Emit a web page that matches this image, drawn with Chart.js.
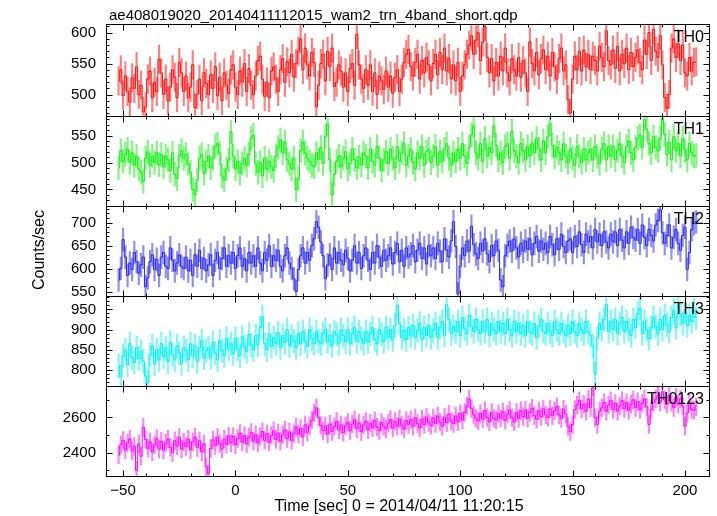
<!DOCTYPE html>
<html>
<head>
<meta charset="utf-8">
<title>ae408019020 wam2 trn 4band short</title>
<script src="https://cdn.jsdelivr.net/npm/chart.js@4.4.1/dist/chart.umd.min.js"></script>
<style>
  html, body { margin: 0; padding: 0; background: #fff; }
  #wrap { width: 717px; height: 516px; }
</style>
</head>
<body>
<div id="wrap"><canvas id="lcchart" width="717" height="516"></canvas></div>
<script>
// light curve in 1 s bins, first bin centred on t = -52 s
var binStart = -52;
var binSize = 1;

var plotTitle = 'ae408019020_20140411112015_wam2_trn_4band_short.qdp';
var timeLabel = 'Time [sec] 0 = 2014/04/11 11:20:15';
var rateLabel = 'Counts/sec';
var bandNames = ['TH0', 'TH1', 'TH2', 'TH3', 'TH0123'];

var th0Rate = [
  522, 540, 498, 530, 505, 488, 527, 510, 545, 500,
  515, 472, 480, 525, 538, 495, 520, 505, 557, 535,
  500, 525, 490, 512, 540, 528, 495, 552, 535, 505,
  530, 495, 512, 548, 479, 500, 525, 490, 535, 518,
  500, 532, 510, 545, 498, 528, 490, 535, 515, 502,
  540, 548, 512, 500, 538, 520, 550, 505, 542, 515,
  500, 530, 555, 562, 525, 497, 520, 495, 538, 545,
  525, 505, 540, 558, 520, 553, 535, 565, 528, 550,
  570, 590, 540, 575, 548, 530, 568, 552, 480, 515,
  550, 565, 522, 570, 545, 575, 513, 520, 548, 538,
  512, 535, 505, 542, 550, 515, 597, 548, 525, 510,
  540, 515, 548, 505, 535, 500, 530, 522, 508, 538,
  512, 530, 502, 528, 540, 505, 525, 552, 565, 573,
  545, 530, 552, 565, 525, 555, 535, 560, 548, 522,
  550, 565, 532, 568, 540, 575, 538, 558, 525, 548,
  522, 552, 505, 530, 548, 565, 580, 595, 565, 588,
  600, 555, 585, 610, 560, 535, 558, 522, 552, 530,
  562, 538, 575, 535, 522, 558, 540, 530, 560, 528,
  555, 535, 505, 585, 550, 538, 568, 532, 558, 572,
  540, 562, 530, 568, 545, 525, 558, 575, 538, 548,
  492, 470, 525, 562, 540, 570, 538, 572, 545, 565,
  540, 562, 555, 538, 578, 560, 545, 603, 555, 548,
  572, 542, 578, 538, 565, 550, 575, 540, 568, 545,
  560, 572, 552, 540, 588, 565, 600, 555, 605, 570,
  560, 595, 548, 495, 478, 500, 575, 590, 560, 582,
  555, 580, 535, 530, 560, 538, 552, 553
];

var th1Rate = [
  490, 522, 502, 515, 525, 500, 518, 495, 512, 488,
  482, 465, 508, 520, 495, 512, 500, 518, 496, 515,
  492, 512, 505, 485, 518, 478, 470, 512, 522, 508,
  515, 498, 482, 450, 440, 468, 508, 515, 480, 502,
  512, 490, 508, 530, 535, 518, 475, 468, 488, 505,
  557, 512, 488, 502, 480, 498, 508, 495, 515, 545,
  551, 498, 482, 500, 475, 508, 488, 502, 492, 485,
  512, 528, 542, 518, 538, 505, 498, 488, 508, 450,
  470, 522, 538, 518, 508, 502, 495, 492, 518, 505,
  528, 498, 548, 572, 505, 440, 478, 502, 512, 492,
  508, 520, 488, 498, 525, 505, 490, 510, 495, 518,
  512, 490, 525, 502, 495, 530, 508, 485, 505, 520,
  498, 525, 508, 490, 530, 502, 518, 535, 495, 512,
  525, 500, 488, 518, 508, 530, 495, 520, 525, 500,
  512, 530, 495, 520, 502, 525, 535, 508, 495, 518,
  502, 525, 508, 535, 512, 498, 528, 552, 568, 518,
  508, 535, 502, 545, 512, 528, 518, 568, 532, 505,
  518, 500, 530, 535, 508, 558, 522, 512, 500, 535,
  522, 505, 530, 512, 535, 518, 545, 525, 505, 540,
  518, 548, 572, 532, 510, 528, 518, 505, 535, 512,
  500, 525, 508, 495, 530, 512, 500, 525, 505, 518,
  525, 505, 530, 512, 498, 525, 535, 505, 530, 512,
  530, 505, 522, 535, 512, 500, 530, 540, 518, 505,
  528, 545, 550, 528, 580, 562, 535, 518, 548, 528,
  522, 545, 582, 552, 515, 538, 505, 548, 522, 535,
  512, 545, 522, 505, 535, 518, 512, 513
];

var th2Rate = [
  575, 600, 663, 625, 585, 612, 598, 635, 615, 590,
  608, 625, 560, 580, 615, 630, 598, 620, 585, 625,
  635, 605, 600, 645, 618, 595, 612, 630, 605, 600,
  625, 595, 618, 585, 630, 605, 640, 600, 622, 595,
  608, 630, 585, 618, 635, 600, 622, 645, 605, 628,
  612, 635, 600, 628, 645, 605, 622, 595, 635, 612,
  628, 605, 645, 612, 595, 635, 618, 650, 605, 628,
  618, 640, 605, 595, 628, 645, 612, 600, 578, 550,
  598, 628, 645, 612, 635, 618, 650, 665, 702, 690,
  658, 628, 578, 608, 630, 598, 645, 612, 635, 618,
  608, 640, 622, 595, 618, 650, 612, 635, 600, 628,
  645, 618, 598, 635, 612, 650, 625, 605, 640, 618,
  628, 645, 610, 635, 655, 615, 640, 605, 645, 625,
  632, 650, 615, 640, 655, 622, 645, 610, 650, 628,
  645, 622, 655, 638, 615, 665, 640, 625, 660, 702,
  648, 545, 605, 645, 628, 660, 638, 692, 652, 632,
  622, 655, 638, 665, 632, 615, 650, 628, 660, 640,
  575, 560, 628, 650, 660, 638, 665, 645, 625, 655,
  638, 660, 642, 665, 630, 655, 670, 638, 660, 642,
  655, 635, 670, 652, 630, 665, 642, 675, 648, 635,
  660, 665, 635, 670, 648, 680, 652, 635, 675, 658,
  670, 645, 685, 658, 675, 650, 680, 658, 645, 675,
  658, 680, 650, 685, 662, 645, 680, 655, 690, 668,
  662, 685, 655, 695, 668, 650, 685, 672, 660, 695,
  705, 728, 678, 655, 672, 695, 645, 668, 685, 655,
  640, 672, 690, 598, 635, 685, 698, 702
];

var th3Rate = [
  810, 782, 835, 850, 812, 865, 830, 818, 855, 828,
  845, 822, 785, 770, 838, 860, 815, 850, 825, 865,
  832, 855, 820, 868, 838, 825, 860, 842, 815, 855,
  848, 825, 865, 835, 860, 820, 855, 872, 830, 848,
  855, 830, 868, 842, 825, 872, 848, 835, 878, 852,
  865, 840, 878, 852, 835, 882, 858, 845, 888, 862,
  850, 885, 862, 905, 932, 865, 850, 890, 858, 880,
  865, 892, 855, 885, 868, 900, 860, 885, 872, 855,
  890, 865, 895, 872, 858, 900, 878, 865, 895, 872,
  865, 890, 900, 870, 885, 860, 895, 888, 865, 900,
  885, 870, 900, 865, 890, 905, 870, 895, 878, 865,
  895, 870, 890, 905, 875, 865, 900, 888, 870, 905,
  880, 900, 875, 910, 960, 915, 880, 898, 875, 905,
  885, 910, 880, 898, 915, 875, 905, 885, 910, 880,
  898, 915, 880, 905, 920, 885, 962, 925, 890, 908,
  895, 920, 885, 930, 902, 890, 935, 908, 895, 925,
  900, 890, 920, 895, 925, 885, 915, 900, 890, 920,
  895, 915, 890, 925, 900, 885, 920, 895, 915, 890,
  910, 885, 920, 895, 890, 915, 880, 908, 925, 895,
  890, 915, 895, 885, 920, 900, 890, 915, 895, 885,
  910, 890, 920, 895, 885, 915, 900, 890, 920, 895,
  885, 860, 790, 878, 915, 900, 925, 962, 895, 920,
  900, 925, 890, 915, 930, 895, 920, 900, 885, 925,
  905, 940, 952, 890, 920, 900, 878, 905, 930, 908,
  890, 925, 900, 935, 912, 895, 930, 948, 905, 962,
  938, 915, 945, 910, 935, 920, 948, 930
];

var th0123Rate = [
  2387, 2445, 2470, 2415, 2455, 2478, 2410, 2435, 2300, 2450,
  2380, 2545, 2475, 2425, 2462, 2405, 2445, 2480, 2420, 2465,
  2415, 2455, 2478, 2430, 2400, 2468, 2438, 2488, 2420, 2460,
  2435, 2478, 2415, 2462, 2490, 2430, 2468, 2405, 2450, 2320,
  2280, 2425, 2472, 2440, 2488, 2452, 2420, 2478, 2448, 2495,
  2455, 2492, 2445, 2480, 2510, 2460, 2498, 2450, 2488, 2515,
  2465, 2502, 2455, 2492, 2520, 2470, 2508, 2460, 2498, 2525,
  2475, 2512, 2465, 2502, 2530, 2480, 2518, 2470, 2508, 2545,
  2505, 2538, 2490, 2558, 2515, 2552, 2585, 2625, 2655, 2600,
  2555, 2525, 2552, 2505, 2562, 2520, 2548, 2578, 2530, 2558,
  2515, 2552, 2572, 2525, 2562, 2588, 2535, 2568, 2520, 2558,
  2578, 2530, 2568, 2540, 2582, 2545, 2525, 2572, 2550, 2535,
  2568, 2588, 2540, 2578, 2550, 2592, 2555, 2535, 2582, 2560,
  2588, 2550, 2598, 2565, 2540, 2592, 2560, 2602, 2570, 2555,
  2598, 2565, 2608, 2575, 2550, 2602, 2570, 2618, 2580, 2565,
  2608, 2575, 2622, 2585, 2628, 2665, 2705, 2650, 2615, 2595,
  2580, 2622, 2590, 2638, 2600, 2575, 2628, 2595, 2585, 2622,
  2595, 2632, 2585, 2618, 2642, 2600, 2575, 2628, 2595, 2638,
  2605, 2642, 2595, 2628, 2652, 2610, 2590, 2638, 2605, 2648,
  2615, 2600, 2648, 2610, 2638, 2662, 2615, 2595, 2648, 2620,
  2550, 2520, 2560, 2645, 2670, 2695, 2648, 2675, 2635, 2705,
  2655, 2770, 2600, 2560, 2635, 2655, 2685, 2635, 2670, 2695,
  2645, 2680, 2635, 2665, 2695, 2650, 2685, 2640, 2675, 2700,
  2655, 2690, 2645, 2680, 2705, 2660, 2560, 2645, 2685, 2705,
  2725, 2685, 2745, 2700, 2675, 2725, 2685, 2655, 2715, 2675,
  2705, 2665, 2550, 2625, 2685, 2645, 2640, 2660
];

var bandRates = [th0Rate, th1Rate, th2Rate, th3Rate, th0123Rate];
// one-sigma error per bin, about the same along each band
var bandErrors = [23, 22, 25, 29, 50];

var timeTicks = [-50, 0, 50, 100, 150, 200];
var yTickValues = [
  [500, 550, 600],
  [450, 500, 550],
  [550, 600, 650, 700],
  [800, 850, 900, 950],
  [2400, 2600]
];

// axis setup
var timeRange = [-57.6, 210.7];
var bandRanges = [[465, 614], [419, 586], [540, 736], [760, 983], [2268, 2778]];
var minorStep = [10, 10, 10, 10, 100];
var majorStep = [50, 50, 50, 50, 200];
var panelWeights = [1.025, 1, 1, 1, 1];
var lineColors = ['rgb(255,20,20)', 'rgb(30,240,30)', 'rgb(40,40,235)', 'rgb(0,240,240)', 'rgb(255,0,255)'];
var barColors = ['rgba(255,0,0,0.5)', 'rgba(0,240,0,0.5)', 'rgba(30,30,235,0.5)', 'rgba(0,240,240,0.5)', 'rgba(255,0,255,0.5)'];

var fontFamily = '"Liberation Sans", Arial, Helvetica, sans-serif';

function binTimes(n) {
    var t = [];
    for (var k = 0; k < n; k++) {
        t.push(binStart + k * binSize);
    }
    return t;
}

// frames, inward ticks, panel names and the free-standing labels
var qdpFrame = {
    id: 'qdpFrame',
    beforeDatasetDraw: function (chart, args) {
        var ys = args.meta.yScale;
        var area = chart.chartArea;
        var ctx = chart.ctx;
        ctx.save();
        ctx.beginPath();
        ctx.rect(area.left, ys.top, area.right - area.left, ys.bottom - ys.top);
        ctx.clip();
    },
    afterDatasetDraw: function (chart) {
        chart.ctx.restore();
    },
    afterDraw: function (chart) {
        var ctx = chart.ctx;
        var area = chart.chartArea;
        var xs = chart.scales.x;
        var left = Math.round(area.left) + 0.5;
        var right = Math.round(area.right) + 0.5;

        ctx.save();
        ctx.strokeStyle = '#000';
        ctx.fillStyle = '#000';
        ctx.lineWidth = 1;

        function seg(x1, y1, x2, y2) {
            ctx.beginPath();
            ctx.moveTo(x1, y1);
            ctx.lineTo(x2, y2);
            ctx.stroke();
        }

        bandNames.forEach(function (name, i) {
            var ys = chart.scales['y' + i];
            var top = Math.round(ys.top) + 0.5;
            var bot = Math.round(ys.bottom) + 0.5;

            ctx.strokeRect(left, top, right - left, bot - top);

            for (var t = timeTicks[0]; t <= timeTicks[timeTicks.length - 1]; t += 10) {
                var px = Math.round(xs.getPixelForValue(t)) + 0.5;
                var len = (t % 50 === 0) ? 6 : 3;
                seg(px, top, px, top + len);
                seg(px, bot, px, bot - len);
            }

            var v0 = Math.ceil(bandRanges[i][0] / minorStep[i]) * minorStep[i];
            for (var v = v0; v <= bandRanges[i][1]; v += minorStep[i]) {
                var py = Math.round(ys.getPixelForValue(v)) + 0.5;
                var ylen = (v % majorStep[i] === 0) ? 6 : 3;
                seg(left, py, left + ylen, py);
                seg(right, py, right - ylen, py);
            }

            ctx.font = '16px ' + fontFamily;
            ctx.textAlign = 'right';
            ctx.textBaseline = 'alphabetic';
            ctx.fillText(name, area.right - 5, ys.top + 18);
        });

        ctx.font = '15px ' + fontFamily;
        ctx.textAlign = 'left';
        ctx.textBaseline = 'alphabetic';
        ctx.fillText(plotTitle, area.left + 3, 20);

        ctx.font = '16px ' + fontFamily;
        ctx.textAlign = 'center';
        ctx.textBaseline = 'middle';
        ctx.fillText(timeLabel, 399, 507);

        ctx.translate(40, (area.top + area.bottom) / 2);
        ctx.rotate(-Math.PI / 2);
        ctx.fillText(rateLabel, 0, 0);
        ctx.restore();
    }
};

function initLightCurve() {
    var canvas = document.getElementById('lcchart');
    if (!canvas) {
        console.error("canvas 'lcchart' not found");
        return;
    }

    Chart.defaults.font.family = fontFamily;
    Chart.defaults.color = '#000';

    var datasets = [];
    var scales = {
        x: {
            type: 'linear',
            min: timeRange[0],
            max: timeRange[1],
            offset: false,
            grid: { display: false, drawTicks: false },
            border: { display: false },
            ticks: {
                font: { size: 15 },
                padding: 6,
                autoSkip: false,
                maxRotation: 0,
                callback: function (v) { return String(v).replace('-', '\u2212'); }
            },
            afterBuildTicks: function (scale) {
                scale.ticks = timeTicks.map(function (v) { return { value: v }; });
            },
            afterFit: function (scale) { scale.height = 40; }
        }
    };

    bandRates.forEach(function (rates, i) {
        var yid = 'y' + i;
        var times = binTimes(rates.length);

        datasets.push({
            type: 'bar',
            label: bandNames[i] + ' error',
            yAxisID: yid,
            data: rates.map(function (v, k) {
                return { x: times[k], y: [v - bandErrors[i], v + bandErrors[i]] };
            }),
            backgroundColor: barColors[i],
            borderWidth: 0,
            barThickness: 1.5,
            grouped: false
        });

        datasets.push({
            type: 'line',
            label: bandNames[i],
            yAxisID: yid,
            data: rates.map(function (v, k) { return { x: times[k], y: v }; }),
            stepped: 'middle',
            borderWidth: 1,
            pointRadius: 0,
            borderColor: lineColors[i],
            backgroundColor: lineColors[i]
        });
    });

    // stacked axes are laid out from the last one down, so add the bottom panel first
    for (var i = bandNames.length - 1; i >= 0; i--) {
        (function (i) {
            scales['y' + i] = {
                type: 'linear',
                position: 'left',
                stack: 'bands',
                stackWeight: panelWeights[i],
                offset: false,
                min: bandRanges[i][0],
                max: bandRanges[i][1],
                grid: { display: false, drawTicks: false },
                border: { display: false },
                ticks: {
                    font: { size: 15 },
                    padding: 10,
                    autoSkip: false,
                    callback: function (v) { return String(v); }
                },
                afterBuildTicks: function (scale) {
                    scale.ticks = yTickValues[i].map(function (v) { return { value: v }; });
                },
                afterFit: function (scale) { scale.width = 106; }
            };
        })(i);
    }

    new Chart(canvas.getContext('2d'), {
        type: 'bar',
        data: { datasets: datasets },
        options: {
            responsive: false,
            animation: false,
            events: [],
            layout: { padding: { top: 24, right: 8, left: 0, bottom: 0 } },
            plugins: { legend: { display: false }, tooltip: { enabled: false } },
            scales: scales
        },
        plugins: [qdpFrame]
    });
    console.log('light curve drawn');
}

document.addEventListener('DOMContentLoaded', initLightCurve);
</script>
</body>
</html>
